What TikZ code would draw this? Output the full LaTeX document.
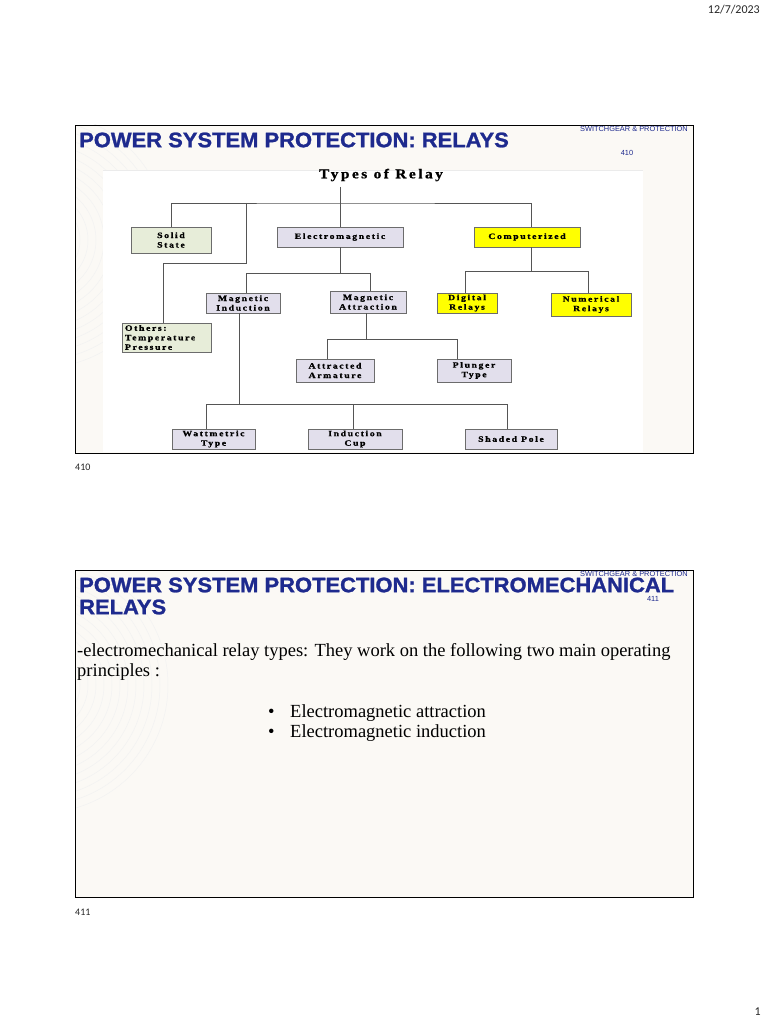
\documentclass[tikz,border=0pt]{standalone}
\usepackage{fontspec}
\setmainfont{Liberation Serif}
\newfontfamily\titlefont[BoldFont={Liberation Sans Bold},BoldFeatures={FakeStretch=1.045,FakeBold=1.2}]{Liberation Sans}
\newfontfamily\smallsans{Liberation Sans}
\newfontfamily\calfont{Carlito}
\newfontfamily\boxfont[BoldFont={Liberation Serif Bold},BoldFeatures={LetterSpace=20,FakeStretch=1.2,FakeBold=1.0}]{Liberation Serif}
\newfontfamily\typesfont[BoldFont={Liberation Serif Bold},BoldFeatures={LetterSpace=18,FakeStretch=1.15,FakeBold=0.8}]{Liberation Serif}
\usetikzlibrary{shadows}
\definecolor{slidebg}{HTML}{FBF9F5}
\definecolor{ttlblue}{HTML}{1E2A8E}
\definecolor{boxgreen}{HTML}{E7EDD9}
\definecolor{boxlav}{HTML}{E2DFEC}
\definecolor{boxyel}{HTML}{FFFF00}
\definecolor{linegray}{HTML}{555555}
\tikzset{
  slide/.style={draw=black, line width=0.9pt},
  ttl/.style={font=\titlefont\bfseries\fontsize{21}{22}\selectfont, text=ttlblue, anchor=west, inner sep=0pt},
  tiny/.style={font=\smallsans\fontsize{7.4}{8}\selectfont, text=ttlblue, inner sep=0pt},
  relbox/.style={draw=gray!85!black, line width=0.6pt, inner sep=0pt, align=center,
     font=\boxfont\bfseries\fontsize{8.1}{9.5}\selectfont,
     drop shadow={shadow xshift=1pt, shadow yshift=-1pt, fill=black!55, opacity=1}},
  greenbox/.style={relbox, fill=boxgreen},
  lavbox/.style={relbox, fill=boxlav},
  yelbox/.style={relbox, fill=boxyel},
  conn/.style={draw=linegray, line width=0.7pt},
  body/.style={font=\fontsize{18.5}{20}\selectfont, anchor=base west, inner sep=0pt},
  pagelbl/.style={font=\calfont\fontsize{10}{12}\selectfont, inner sep=0pt, text=black!85},
  arcs/.style={black!5, line width=0.5pt},
}
\begin{document}
\begin{tikzpicture}[x=1pt,y=-1pt]
\useasboundingbox[fill=white] (0,0) rectangle (768,1024);
% date and page
\node[pagelbl, anchor=north east, font=\calfont\fontsize{12}{14}\selectfont] (date) at (760,5) {12/7/2023};
\node[pagelbl, anchor=south east, font=\calfont\fontsize{12}{14}\selectfont] (pg) at (761,1016) {1};

% ---------------- Slide 1 ----------------
\path[fill=slidebg] (75,125) rectangle (693,453);
\begin{scope}
\clip (75,125) rectangle (693,453);
\foreach \r in {40,48,...,130} {\draw[arcs] (40,240) circle (\r);}
\end{scope}
\path[slide] (75,125) rectangle (693,453);
\node[ttl] (t1) at (79,140) {POWER SYSTEM PROTECTION: RELAYS};
\node[tiny, anchor=north east] (sw1) at (688,126) {SWITCHGEAR \& PROTECTION};
\node[tiny, anchor=center] (n1) at (627,153) {410};
% diagram image area
\path[fill=white] (103,170) rectangle (643,452);
\path[draw=black!8, line width=0.6pt] (103,170) -- (643,170);
\node[font=\typesfont\bfseries\fontsize{13.5}{14}\selectfont, inner sep=0pt] (types) at (381,175) {Types of Relay};

% boxes
\node[greenbox, minimum width=80, minimum height=26] (solid) at (171,240) {Solid\\State};
\node[lavbox, minimum width=126, minimum height=20] (electro) at (340,237) {Electromagnetic};
\node[yelbox, minimum width=106, minimum height=20] (comp) at (527,237) {Computerized};
\node[yelbox, minimum width=60, minimum height=20] (digital) at (467,303) {Digital\\Relays};
\node[yelbox, minimum width=80, minimum height=23] (numer) at (591,304.5) {Numerical\\Relays};
\node[lavbox, minimum width=74, minimum height=20] (minduct) at (243,303) {Magnetic\\Induction};
\node[lavbox, minimum width=76, minimum height=22] (mattr) at (368,302) {Magnetic\\Attraction};
\node[greenbox, minimum width=89, minimum height=29, align=left, text width=83] (others) at (166.5,337.5) {Others:\\Temperature\\Pressure};
\node[lavbox, minimum width=78, minimum height=23] (armat) at (335,370.5) {Attracted\\Armature};
\node[lavbox, minimum width=74, minimum height=23] (plunger) at (474,370.5) {Plunger\\Type};
\node[lavbox, minimum width=83, minimum height=20] (watt) at (213.5,439) {Wattmetric\\Type};
\node[lavbox, minimum width=94, minimum height=20] (cup) at (355,439) {Induction\\Cup};
\node[lavbox, minimum width=92, minimum height=20] (shaded) at (511,439) {Shaded Pole};

% junction coordinates
\coordinate (r0) at (340,187);
\coordinate (bus) at (340,203);
\coordinate (o1) at (246,263);
\coordinate (o2) at (163,263);
\coordinate (cbus) at (531,271);
\coordinate (dx) at (465,271);
\coordinate (nx) at (588,271);
\coordinate (ebus) at (340,273);
\coordinate (mix) at (246,273);
\coordinate (mattx) at (370,273);
\coordinate (abus) at (366,339);
\coordinate (ax) at (327,339);
\coordinate (px) at (457,339);
\coordinate (ibus) at (239,404);
\coordinate (wx) at (206,404);
\coordinate (cx) at (353,404);
\coordinate (sx) at (507,404);

% connectors
\draw[conn] (r0) -- (electro.north);
\draw[conn] (solid.north) |- (bus) -| (comp.north -| cbus);
\draw[conn] (bus -| o1) -- (o1) -- (o2) -- (others.north -| o2);
\draw[conn] (comp.south -| cbus) -- (cbus);
\draw[conn] (digital.north -| dx) -- (dx) -- (nx) -- (numer.north -| nx);
\draw[conn] (electro.south) -- (ebus);
\draw[conn] (minduct.north -| mix) -- (mix) -- (mattx) -- (mattr.north -| mattx);
\draw[conn] (mattr.south -| abus) -- (abus);
\draw[conn] (armat.north -| ax) -- (ax) -- (px) -- (plunger.north -| px);
\draw[conn] (minduct.south -| ibus) -- (ibus);
\draw[conn] (watt.north -| wx) -- (wx) -- (sx) -- (shaded.north -| sx);
\draw[conn] (cx) -- (cup.north -| cx);

\node[pagelbl, anchor=west] (p410) at (75,467) {410};

% ---------------- Slide 2 ----------------
\path[fill=slidebg] (75,570) rectangle (693,897);
\begin{scope}
\clip (75,570) rectangle (693,897);
\foreach \r in {40,48,...,130} {\draw[arcs] (40,685) circle (\r);}
\end{scope}
\path[slide] (75,570) rectangle (693,897);
\node[ttl] (t2a) at (79,585) {POWER SYSTEM PROTECTION: ELECTROMECHANICAL};
\node[ttl] (t2b) at (79,607) {RELAYS};
\node[tiny, anchor=north east] (sw2) at (688,571) {SWITCHGEAR \& PROTECTION};
\node[tiny, anchor=center] (n2) at (653,599) {411};
\node[body] (b1) at (77,656) {-electromechanical relay types: They work on the following two main operating};
\node[body] (b2) at (77,676) {principles :};
\node[body] (bu1) at (268,717) {\textbullet};
\node[body] (bu2) at (268,737) {\textbullet};
\node[body] (i1) at (290,717) {Electromagnetic attraction};
\node[body] (i2) at (290,737) {Electromagnetic induction};
\node[pagelbl, anchor=west] (p411) at (75,912) {411};
\end{tikzpicture}
\end{document}
